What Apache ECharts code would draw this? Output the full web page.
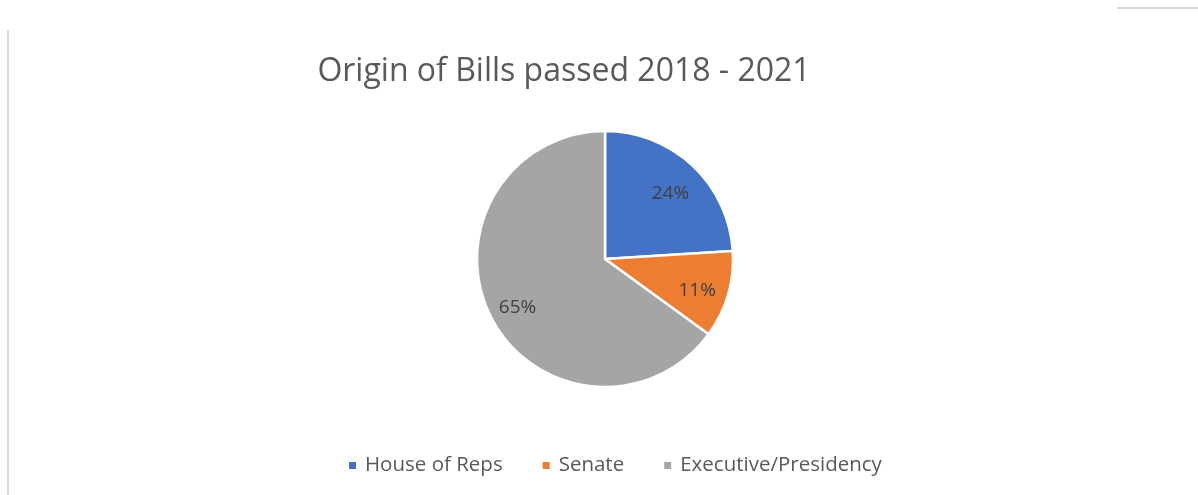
<!DOCTYPE html>
<html><head><meta charset="utf-8">
<script src="https://cdn.jsdelivr.net/npm/echarts@6/dist/echarts.min.js"></script>
<style>html,body{margin:0;padding:0;background:#fff}#c{width:1198px;height:495px}</style>
</head><body><div id="c"></div>
<script>
const titleText = 'Origin of Bills passed 2018 - 2021';
const categories = ['House of Reps', 'Senate', 'Executive/Presidency'];
const values = [24, 11, 65];
const colors = ['#4472C4', '#ED7D31', '#A5A5A5'];

const chart = echarts.init(document.getElementById('c'));
const data = categories.map((n, i) => ({ name: n, value: values[i], itemStyle: { color: colors[i] } }));
chart.setOption({
  animation: false,
  title: {
    text: titleText, left: 559, top: 51, textAlign: 'center',
    textStyle: { fontFamily: 'Open Sans', fontWeight: 'normal', fontSize: 32, color: '#595959' }
  },
  legend: {
    data: categories, top: 450, left: 342, icon: 'rect', itemWidth: 9, itemHeight: 9, itemGap: 38,
    textStyle: { fontFamily: 'Open Sans', fontSize: 20.5, color: '#595959', padding: [0, 0, 0, 3] }
  },
  graphic: [
    { type: 'line', shape: { x1: 8, y1: 30, x2: 8, y2: 495 }, style: { stroke: '#d9d9d9', lineWidth: 2 } },
    { type: 'line', shape: { x1: 1117, y1: 8, x2: 1198, y2: 8 }, style: { stroke: '#d9d9d9', lineWidth: 2 } }
  ],
  series: [
    {
      type: 'pie', center: [605, 259], radius: 128, startAngle: 90, clockwise: true,
      itemStyle: { borderColor: '#fff', borderWidth: 2.5 },
      label: { show: false }, labelLine: { show: false }, emphasis: { disabled: true },
      data: data
    },
    {
      type: 'pie', center: [604, 264], radius: [60, 128], startAngle: 90, clockwise: true, silent: true,
      percentPrecision: 0,
      itemStyle: { color: 'rgba(0,0,0,0)', borderWidth: 0 },
      label: { show: true, position: 'inside', formatter: '{d}%', fontFamily: 'Open Sans', fontSize: 19, color: '#404040' },
      labelLine: { show: false }, emphasis: { disabled: true },
      data: categories.map((n, i) => ({ name: n, value: values[i], itemStyle: { color: 'rgba(0,0,0,0)' } }))
    }
  ]
});
</script></body></html>
